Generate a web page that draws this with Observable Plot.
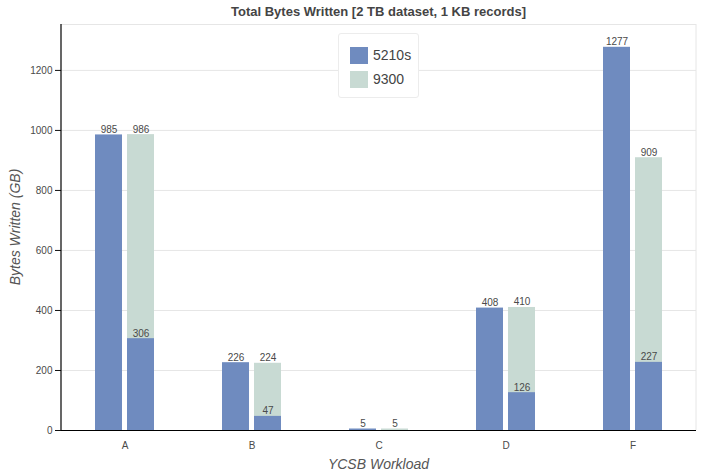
<!DOCTYPE html>
<html>
<head>
<meta charset="utf-8">
<script src="https://cdn.jsdelivr.net/npm/d3@7"></script>
<script src="https://cdn.jsdelivr.net/npm/@observablehq/plot@0.6"></script>
<style>
  html, body { margin: 0; padding: 0; background: #fff; }
  #wrap { position: relative; width: 705px; height: 472px; font-family: "Liberation Sans", Arial, sans-serif; }
  #wrap svg { position: absolute; left: 0; top: 0; }
  #wrap svg text { fill: #4a4a4a; }
  .title { position: absolute; left: 60px; width: 637px; top: 4px; text-align: center;
           font: bold 13px "Liberation Sans", Arial, sans-serif; color: #444; white-space: nowrap; }
  .xlab { position: absolute; left: 60px; width: 637px; top: 456px; text-align: center;
          font: italic 14px "Liberation Sans", Arial, sans-serif; color: #555; }
  .ylab { position: absolute; left: 15px; top: 227px; transform: translate(-50%, -50%) rotate(-90deg);
          font: italic 14px "Liberation Sans", Arial, sans-serif; color: #555; white-space: nowrap; }
  .legend { position: absolute; left: 338px; top: 33px; width: 79px; height: 63px; background: #fff;
            border: 1px solid #ececec; border-radius: 3px; }
  .legend .item { position: absolute; left: 11px; height: 18px; display: flex; align-items: center;
                  font: 14px "Liberation Sans", Arial, sans-serif; color: #444; }
  .legend .sw { width: 18px; height: 17px; margin-right: 5px; }
</style>
</head>
<body>
<div id="wrap"></div>
<script>
const categories = ["A", "B", "C", "D", "F"];
const seriesNames = ["5210s", "9300"];
const values5210s = [985, 226, 5, 408, 1277];
const values9300Total = [986, 224, 5, 410, 909];
const values9300Lower = [306, 47, null, 126, 227];
const yTicks = [0, 200, 400, 600, 800, 1000, 1200];
const yMax = 1353;
const colors = {"5210s": "#6f8bbf", "9300": "#c8dad3"};
const titleText = "Total Bytes Written [2 TB dataset, 1 KB records]";
const xTitle = "YCSB Workload";
const yTitle = "Bytes Written (GB)";

const rows5210 = categories.map((c, i) => ({cat: c, series: seriesNames[0], value: values5210s[i]}));
const rows9300 = categories.map((c, i) => ({cat: c, series: seriesNames[1], value: values9300Total[i]}));
const rowsLower = categories.map((c, i) => ({cat: c, series: seriesNames[1], value: values9300Lower[i]}))
  .filter(d => d.value != null);

const labelOpts = {fx: "cat", x: "series", y: "value", text: d => String(d.value), lineAnchor: "bottom", dy: -2, fontSize: 10};

const chart = Plot.plot({
  width: 705,
  height: 472,
  marginLeft: 60,
  marginRight: 8,
  marginTop: 24,
  marginBottom: 42,
  style: {fontSize: "10px", fontFamily: "'Liberation Sans', Arial, sans-serif", color: "#111", background: "transparent"},
  fx: {domain: categories, padding: 0, label: null, tickSize: 0, tickPadding: 11, axis: "bottom"},
  x: {domain: seriesNames, paddingInner: 0.17, paddingOuter: 1.05, axis: null},
  y: {domain: [0, yMax], ticks: yTicks, tickFormat: d => String(d), tickSize: 6, tickPadding: 3, label: null},
  marks: [
    Plot.ruleY(yTicks.filter(t => t > 0).concat([yMax]), {stroke: "#e6e6e6"}),
    Plot.barY(rows5210, {fx: "cat", x: "series", y1: 0, y2: "value", fill: colors["5210s"]}),
    Plot.barY(rows9300, {fx: "cat", x: "series", y1: 0, y2: "value", fill: colors["9300"]}),
    Plot.barY(rowsLower, {fx: "cat", x: "series", y1: 0, y2: "value", fill: colors["5210s"]}),
    Plot.text(rows5210, labelOpts),
    Plot.text(rows9300, labelOpts),
    Plot.text(rowsLower, labelOpts),
    Plot.ruleY([0], {stroke: "#000", strokeWidth: 1.2})
  ]
});

const wrap = document.getElementById("wrap");
wrap.appendChild(chart);

// frame lines: left axis line and right border, positioned with the plot's own scales
const fxScale = chart.scale("fx");
const yScale = chart.scale("y");
const leftX = fxScale.apply(categories[0]);
const rightX = fxScale.apply(categories[categories.length - 1]) + fxScale.bandwidth;
const svg = d3.select(chart);
svg.append("line").attr("x1", rightX).attr("x2", rightX)
  .attr("y1", yScale.apply(yMax)).attr("y2", yScale.apply(0)).attr("stroke", "#e6e6e6");
svg.append("line").attr("x1", leftX).attr("x2", leftX)
  .attr("y1", yScale.apply(yMax)).attr("y2", yScale.apply(0)).attr("stroke", "#000").attr("stroke-width", 1.2);

const t = document.createElement("div"); t.className = "title"; t.textContent = titleText; wrap.appendChild(t);
const xl = document.createElement("div"); xl.className = "xlab"; xl.textContent = xTitle; wrap.appendChild(xl);
const yl = document.createElement("div"); yl.className = "ylab"; yl.textContent = yTitle; wrap.appendChild(yl);

const lg = document.createElement("div"); lg.className = "legend";
seriesNames.forEach((s, i) => {
  const it = document.createElement("div"); it.className = "item"; it.style.top = (12 + i * 24) + "px";
  const sw = document.createElement("span"); sw.className = "sw"; sw.style.background = colors[s];
  const lab = document.createElement("span"); lab.textContent = s;
  it.appendChild(sw); it.appendChild(lab); lg.appendChild(it);
});
wrap.appendChild(lg);
</script>
</body>
</html>
